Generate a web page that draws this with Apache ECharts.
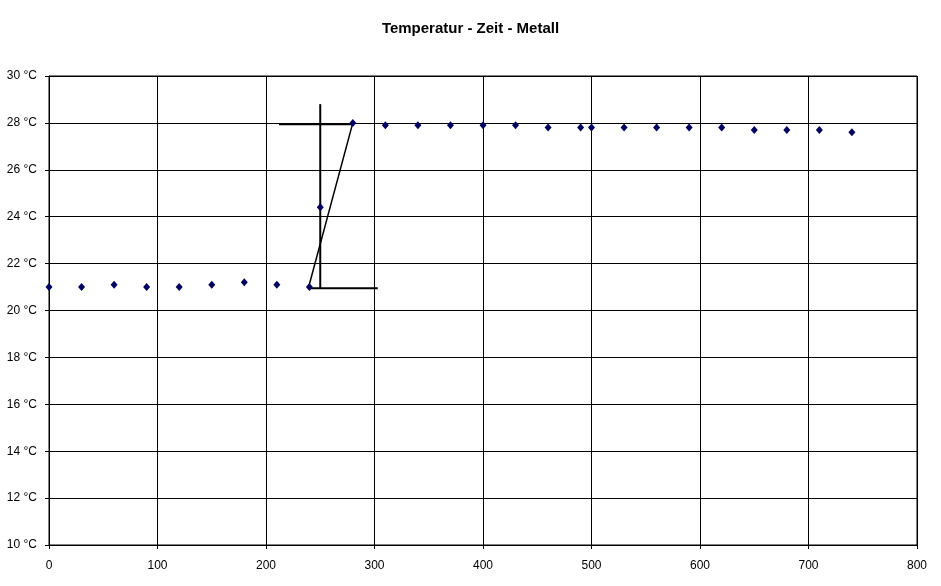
<!DOCTYPE html>
<html>
<head>
<meta charset="utf-8">
<script src="https://cdn.jsdelivr.net/npm/echarts@6/dist/echarts.min.js"></script>
<style>
  html, body { margin: 0; padding: 0; background: #fff; }
  #chart { width: 941px; height: 586px; }
</style>
</head>
<body>
<div id="chart"></div>
<script>
// Zeit (s) und Temperatur (°C) der Messpunkte
const zeit = [0, 30, 60, 90, 120, 150, 180, 210, 240, 250, 280,
  310, 340, 370, 400, 430, 460, 490, 500, 530, 560, 590, 620, 650, 680, 710, 740];
const temperatur = [21.0, 21.0, 21.1, 21.0, 21.0, 21.1, 21.2, 21.1, 21.0, 24.4, 28.0,
  27.9, 27.9, 27.9, 27.9, 27.9, 27.8, 27.8, 27.8, 27.8, 27.8, 27.8, 27.8, 27.7, 27.7, 27.7, 27.6];

// eingezeichnete Hilfslinien (Auswertung)
const linieOben = [[212, 27.94], [280, 27.94]];
const linieUnten = [[239, 20.95], [303, 20.95]];
const linieSenkrecht = [[250, 28.8], [250, 20.95]];
const linieSchraeg = [[239, 20.95], [280, 28.0]];

const yTicks = [10, 12, 14, 16, 18, 20, 22, 24, 26, 28, 30];

const chart = echarts.init(document.getElementById('chart'));

const hilfslinie = (data, width) => ({
  type: 'line', data, showSymbol: false, silent: true,
  lineStyle: { color: '#000', width }, z: 3
});

chart.setOption({
  backgroundColor: '#fff',
  animation: false,
  title: {
    text: 'Temperatur - Zeit - Metall',
    left: 'center', top: 16,
    textStyle: { fontFamily: 'Liberation Sans', fontSize: 15, fontWeight: 'bold', color: '#000' }
  },
  grid: { left: 49, right: 24, top: 76, bottom: 41, show: true, borderColor: '#000', borderWidth: 1 },
  xAxis: {
    type: 'value', min: 0, max: 800, interval: 100,
    axisLine: { show: true, onZero: false, lineStyle: { color: '#000' } },
    axisTick: { show: true, length: 4, lineStyle: { color: '#000' } },
    axisLabel: { color: '#000', fontFamily: 'Liberation Sans', fontSize: 12, margin: 15 },
    splitLine: { show: true, lineStyle: { color: '#000', width: 1 } }
  },
  yAxis: {
    type: 'value', min: 10, max: 30, interval: 2,
    axisLine: { show: true, lineStyle: { color: '#000' } },
    axisTick: { show: true, length: 4, lineStyle: { color: '#000' } },
    axisLabel: {
      color: '#000', fontFamily: 'Liberation Sans', fontSize: 12, margin: 12,
      formatter: v => yTicks.includes(v) ? v + ' °C' : ''
    },
    splitLine: { show: true, lineStyle: { color: '#000', width: 1 } }
  },
  series: [
    hilfslinie(linieOben, 2),
    hilfslinie(linieUnten, 2),
    hilfslinie(linieSenkrecht, 2),
    hilfslinie(linieSchraeg, 1.5),
    {
      type: 'scatter',
      data: zeit.map((x, i) => [x, temperatur[i]]),
      symbol: 'diamond', symbolSize: [7, 8],
      itemStyle: { color: '#00005e', opacity: 1 },
      z: 4
    }
  ]
});
</script>
</body>
</html>
